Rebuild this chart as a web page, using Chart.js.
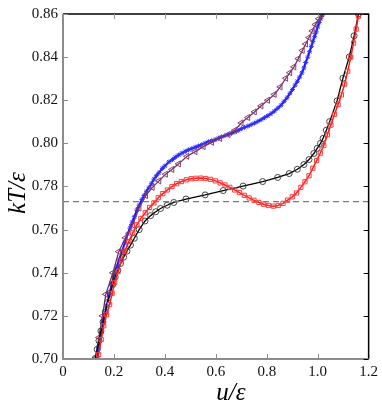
<!DOCTYPE html>
<html>
<head>
<meta charset="utf-8">
<script src="https://cdn.jsdelivr.net/npm/chart.js@4/dist/chart.umd.min.js"></script>
<style>
  html, body { margin: 0; padding: 0; background: #fff; }
  #wrap { width: 382px; height: 405px; }
</style>
</head>
<body>
<div id="wrap"><canvas id="c" width="382" height="405"></canvas></div>
<script>
// ---- data ----
const xTicks = [0, 0.2, 0.4, 0.6, 0.8, 1.0, 1.2];
const yTicks = [0.70, 0.72, 0.74, 0.76, 0.78, 0.80, 0.82, 0.84, 0.86];
const coexT = 0.773;

// red squares (loop)
const redX = [0.140,0.150,0.160,0.171,0.183,0.193,0.203,0.216,0.229,0.243,0.258,0.274,0.290,0.306,0.323,0.340,0.357,0.374,0.392,0.410,0.428,0.446,0.465,0.484,0.503,0.522,0.541,0.560,0.579,0.598,0.617,0.636,0.655,0.674,0.693,0.712,0.731,0.750,0.769,0.788,0.807,0.826,0.845,0.864,0.882,0.900,0.917,0.934,0.950,0.966,0.981,0.996,1.010,1.024,1.038,1.052,1.066,1.080,1.093,1.106,1.118,1.130,1.141,1.151,1.160];
const redY = [0.7020,0.7090,0.7154,0.7205,0.7252,0.7305,0.7355,0.7405,0.7455,0.7500,0.7545,0.7585,0.7622,0.7652,0.7678,0.7703,0.7724,0.7748,0.7767,0.7784,0.7800,0.7813,0.7823,0.7831,0.7836,0.7838,0.7839,0.7837,0.7833,0.7826,0.7817,0.7807,0.7796,0.7784,0.7772,0.7759,0.7747,0.7736,0.7726,0.7718,0.7712,0.7709,0.7712,0.7722,0.7737,0.7752,0.7770,0.7796,0.7822,0.7850,0.7885,0.7920,0.7955,0.7990,0.8040,0.8085,0.8135,0.8180,0.8225,0.8275,0.8335,0.8400,0.8465,0.8530,0.8590];

// black circles
const blackX = [0.127,0.134,0.141,0.149,0.157,0.166,0.175,0.185,0.195,0.205,0.215,0.226,0.238,0.251,0.265,0.280,0.299,0.322,0.344,0.364,0.383,0.409,0.435,0.483,0.558,0.629,0.707,0.784,0.843,0.888,0.920,0.946,0.966,0.985,0.998,1.011,1.021,1.034,1.047,1.076,1.099,1.124,1.143,1.160];
const blackY = [0.7003,0.7045,0.7085,0.7130,0.7172,0.7218,0.7262,0.7305,0.7345,0.7380,0.7412,0.7443,0.7472,0.7500,0.7528,0.7560,0.7600,0.7640,0.7665,0.7683,0.7698,0.7713,0.7726,0.7742,0.7761,0.7781,0.7802,0.7823,0.7842,0.7860,0.7880,0.7902,0.7925,0.7953,0.7977,0.8000,0.8023,0.8061,0.8101,0.8197,0.8302,0.8401,0.8499,0.8600];

// purple left triangles
const purpleX = [0.127,0.141,0.155,0.168,0.196,0.219,0.245,0.273,0.299,0.325,0.351,0.377,0.403,0.428,0.454,0.487,0.519,0.551,0.584,0.616,0.649,0.675,0.700,0.726,0.752,0.778,0.804,0.830,0.853,0.875,0.891,0.907,0.924,0.940,0.953,0.966,0.979,0.991,1.004,1.017];
const purpleY = [0.7003,0.7100,0.7200,0.7300,0.7400,0.7498,0.7562,0.7622,0.7700,0.7758,0.7796,0.7826,0.7857,0.7879,0.7905,0.7940,0.7962,0.7985,0.8005,0.8023,0.8041,0.8061,0.8095,0.8120,0.8146,0.8174,0.8200,0.8227,0.8262,0.8302,0.8328,0.8355,0.8393,0.8431,0.8461,0.8491,0.8521,0.8551,0.8578,0.8600];

// blue stars
const blueX = [0.135,0.140,0.150,0.160,0.171,0.183,0.192,0.202,0.212,0.221,0.232,0.243,0.254,0.263,0.272,0.280,0.290,0.299,0.310,0.318,0.328,0.338,0.348,0.357,0.367,0.377,0.390,0.400,0.416,0.430,0.441,0.454,0.467,0.480,0.493,0.506,0.519,0.532,0.545,0.558,0.571,0.584,0.597,0.610,0.622,0.636,0.649,0.662,0.675,0.688,0.700,0.713,0.726,0.739,0.752,0.765,0.778,0.791,0.804,0.817,0.830,0.843,0.856,0.868,0.880,0.891,0.901,0.911,0.920,0.929,0.938,0.946,0.953,0.961,0.968,0.975,0.981,0.988,0.994,1.000,1.006,1.012,1.017];
const blueY = [0.7010,0.7055,0.7120,0.7184,0.7245,0.7305,0.7350,0.7396,0.7430,0.7463,0.7500,0.7539,0.7580,0.7607,0.7635,0.7660,0.7690,0.7713,0.7740,0.7758,0.7778,0.7796,0.7815,0.7834,0.7850,0.7864,0.7884,0.7895,0.7914,0.7925,0.7936,0.7946,0.7955,0.7963,0.7970,0.7976,0.7982,0.7988,0.7994,0.8001,0.8008,0.8012,0.8017,0.8024,0.8030,0.8036,0.8041,0.8047,0.8053,0.8060,0.8068,0.8074,0.8080,0.8087,0.8094,0.8102,0.8110,0.8119,0.8128,0.8138,0.8150,0.8163,0.8177,0.8195,0.8212,0.8232,0.8250,0.8270,0.8288,0.8307,0.8327,0.8350,0.8375,0.8400,0.8425,0.8450,0.8472,0.8495,0.8517,0.8540,0.8560,0.8578,0.8595];

const pts = (xs, ys) => xs.map((x, i) => ({ x, y: ys[i] }));

const SERIF = "'Liberation Serif', 'Times New Roman', Times, serif";
Chart.defaults.font.family = SERIF;

// frame + inward ticks + axis titles
const framePlugin = {
    id: 'frame',
    afterDraw(chart) {
        const { ctx, chartArea: a, scales } = chart;
        const sx = scales.x, sy = scales.y;
        ctx.save();
        // top / right in black
        ctx.strokeStyle = '#000';
        ctx.lineWidth = 1.5;
        ctx.beginPath();
        ctx.moveTo(a.left, a.top); ctx.lineTo(a.right, a.top); ctx.lineTo(a.right, a.bottom);
        ctx.stroke();
        // left / bottom in grey
        ctx.strokeStyle = '#8c8c8c';
        ctx.lineWidth = 2;
        ctx.beginPath();
        ctx.moveTo(a.left, a.top); ctx.lineTo(a.left, a.bottom); ctx.lineTo(a.right, a.bottom);
        ctx.stroke();
        // tick marks, inward
        ctx.lineWidth = 1;
        const tl = 5;
        xTicks.forEach(v => {
            const px = Math.round(sx.getPixelForValue(v)) + 0.5;
            ctx.strokeStyle = '#8c8c8c';
            ctx.beginPath(); ctx.moveTo(px, a.bottom); ctx.lineTo(px, a.bottom - tl); ctx.stroke();
            ctx.strokeStyle = '#999';
            ctx.beginPath(); ctx.moveTo(px, a.top); ctx.lineTo(px, a.top + tl); ctx.stroke();
        });
        yTicks.forEach(v => {
            const py = Math.round(sy.getPixelForValue(v)) + 0.5;
            ctx.strokeStyle = '#8c8c8c';
            ctx.beginPath(); ctx.moveTo(a.left, py); ctx.lineTo(a.left + tl, py); ctx.stroke();
            ctx.strokeStyle = '#000';
            ctx.beginPath(); ctx.moveTo(a.right, py); ctx.lineTo(a.right - tl, py); ctx.stroke();
        });
        // axis titles
        ctx.fillStyle = '#000';
        ctx.font = 'italic 25px ' + SERIF;
        ctx.textAlign = 'center';
        ctx.textBaseline = 'alphabetic';
        ctx.fillText('u/ε', 231, 400);
        ctx.translate(25, 193);
        ctx.rotate(-Math.PI / 2);
        ctx.fillText('kT/ε', 0, 0);
        ctx.restore();
    }
};

new Chart(document.getElementById('c'), {
    type: 'scatter',
    data: {
        datasets: [
            {
                label: 'coexistence',
                data: [{ x: 0, y: coexT }, { x: 1.2, y: coexT }],
                showLine: true,
                borderColor: '#7a7a7a',
                borderWidth: 1.4,
                borderDash: [6, 4],
                pointRadius: 0
            },
            {
                label: 'red',
                data: pts(redX, redY),
                showLine: true,
                borderColor: '#ff1a1a',
                borderWidth: 1.5,
                pointStyle: 'rect',
                pointRadius: 3,
                pointBorderWidth: 1,
                pointBorderColor: '#ff3a3a',
                pointBackgroundColor: 'rgba(255,255,255,0)'
            },
            {
                label: 'black',
                data: pts(blackX, blackY),
                showLine: true,
                borderColor: '#000',
                borderWidth: 1.3,
                pointStyle: 'circle',
                pointRadius: 3,
                pointBorderWidth: 0.9,
                pointBorderColor: '#333',
                pointBackgroundColor: 'rgba(255,255,255,0)'
            },
            {
                label: 'purple',
                data: pts(purpleX, purpleY),
                showLine: true,
                borderColor: '#7b2c6b',
                borderWidth: 1.3,
                pointStyle: 'triangle',
                pointRotation: -90,
                pointRadius: 3.5,
                pointBorderWidth: 1,
                pointBorderColor: '#83406f',
                pointBackgroundColor: 'rgba(255,255,255,0)'
            },
            {
                label: 'blue',
                data: pts(blueX, blueY),
                showLine: true,
                borderColor: '#1010ff',
                borderWidth: 2,
                pointStyle: 'star',
                pointRadius: 2.5,
                pointBorderWidth: 1,
                pointBorderColor: '#3030ff',
                pointBackgroundColor: '#3030ff'
            }
        ]
    },
    options: {
        responsive: false,
        animation: false,
        layout: { padding: { left: 0, right: 10, top: 6, bottom: 0 } },
        plugins: { legend: { display: false }, tooltip: { enabled: false } },
        elements: { line: { tension: 0 } },
        scales: {
            x: {
                type: 'linear',
                min: 0, max: 1.2,
                afterBuildTicks: s => { s.ticks = xTicks.map(v => ({ value: v })); },
                afterFit: s => { s.height = 46; },
                border: { display: false },
                grid: { display: false, drawTicks: false },
                ticks: {
                    padding: 4,
                    color: '#111',
                    font: { family: SERIF, size: 15 },
                    callback: v => v === 0 ? '0' : v.toFixed(1)
                }
            },
            y: {
                type: 'linear',
                min: 0.70, max: 0.86,
                afterBuildTicks: s => { s.ticks = yTicks.map(v => ({ value: v })); },
                afterFit: s => { s.width = 63; },
                border: { display: false },
                grid: { display: false, drawTicks: false },
                ticks: {
                    padding: 5,
                    color: '#111',
                    font: { family: SERIF, size: 15 },
                    callback: v => v.toFixed(2)
                }
            }
        }
    },
    plugins: [framePlugin]
});
</script>
</body>
</html>
